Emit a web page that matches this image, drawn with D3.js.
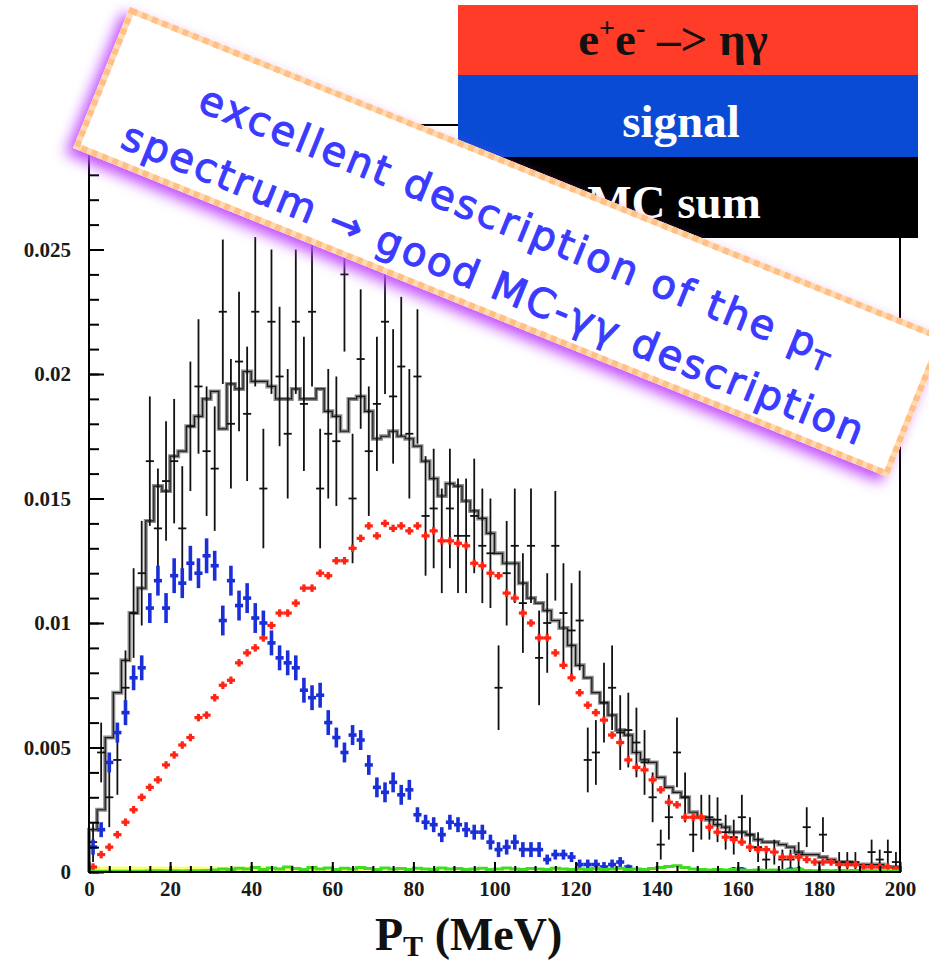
<!DOCTYPE html>
<html lang="en">
<head>
<script src="https://d3js.org/d3.v7.min.js"></script>
<style>
  body { margin: 0; background: #fff; }
  .legend-text { font-family: "Liberation Serif", "Times New Roman", serif; font-weight: bold; font-size: 47px; }
  .note { font-family: "Comic Sans MS", "DejaVu Sans", sans-serif; font-size: 40px; fill: #3b3bff;
          stroke: #3b3bff; stroke-width: 1.1px; }
</style>
</head>
<body>
<svg id="chart" width="929" height="964"></svg>
<script>
// 2 MeV bins from 0 to 200 MeV
const binWidth = 2;
const binLow = d3.range(0, 200, binWidth);

// data points (black crosses)
const dataVals = [0.0012,0.0048,0.0030,0.0045,0.0074,0.0104,0.0120,0.0165,0.0138,0.0157,
  0.0165,0.0138,0.0179,0.0195,0.0169,0.0162,0.0225,0.0180,0.0205,0.0184,
  0.0225,0.0154,0.0221,0.0199,0.0176,0.0221,0.0188,0.0225,0.0154,0.0176,
  0.0173,0.0240,0.0150,0.0206,0.0169,0.0188,0.0221,0.0191,0.0203,0.0176,
  0.0199,0.0143,0.0146,0.0133,0.0146,0.0135,0.0135,0.0143,0.0131,0.0128,
  0.0074,0.0120,0.0131,0.0108,0.0131,0.0086,0.0100,0.0131,0.0104,0.0097,
  0.0101,0.0045,0.0048,0.0068,0.0074,0.0056,0.0057,0.0052,0.0044,0.0030,
  0.0011,0.0022,0.0048,0.0030,0.0015,0.0022,0.0022,0.0021,0.0016,0.0014,
  0.0022,0.0015,0.0010,0.0005,0.0008,0.0005,0.0005,0.0007,0.0018,null,
  0.0015,null,0.0004,0.0004,0.0004,null,0.0008,0.0005,0.0008,0.0004];
const dataErr = [0.0008,0.0012,0.0012,0.0014,0.0015,0.0018,0.0021,0.0026,0.0024,0.0024,
  0.0025,0.0025,0.0026,0.0027,0.0026,0.0025,0.0029,0.0026,0.0028,0.0027,
  0.0030,0.0024,0.0029,0.0028,0.0026,0.0029,0.0027,0.0030,0.0024,0.0026,
  0.0026,0.0031,0.0026,0.0028,0.0026,0.0027,0.0029,0.0027,0.0028,0.0026,
  0.0027,0.0024,0.0024,0.0021,0.0024,0.0023,0.0023,0.0023,0.0023,0.0022,
  0.0017,0.0021,0.0023,0.0020,0.0023,0.0019,0.0020,0.0022,0.0020,0.0019,
  0.0020,0.0013,0.0013,0.0016,0.0017,0.0015,0.0015,0.0014,0.0013,0.0010,
  0.0006,0.0009,0.0014,0.0010,0.0007,0.0009,0.0009,0.0009,0.0007,0.0007,
  0.0009,0.0007,0.0006,0.0005,0.0005,0.0004,0.0004,0.0005,0.0008,null,
  0.0007,null,0.0004,0.0004,0.0004,null,0.0005,0.0004,0.0005,0.0004];

// MC sum histogram (grey step line)
const mcSum = [0.0017,0.0025,0.0054,0.0072,0.0085,0.0104,0.0114,0.0141,0.0155,0.0153,
  0.0167,0.0169,0.0179,0.0183,0.0190,0.0193,0.0178,0.0196,0.0194,0.0201,
  0.0197,0.0197,0.0195,0.0190,0.0190,0.0194,0.0190,0.0190,0.0194,0.0185,
  0.0183,0.0177,0.0190,0.0191,0.0185,0.0174,0.0175,0.0177,0.0175,0.0174,
  0.0171,0.0165,0.0158,0.0151,0.0156,0.0155,0.0149,0.0145,0.0142,0.0136,
  0.0128,0.0124,0.0124,0.0116,0.0110,0.0108,0.0105,0.0101,0.0098,0.0091,
  0.0083,0.0078,0.0072,0.0068,0.0063,0.0057,0.0055,0.0048,0.0045,0.0044,
  0.0038,0.0034,0.0032,0.0030,0.0024,0.0022,0.0021,0.0019,0.0018,0.0016,
  0.0016,0.0015,0.0013,0.0012,0.0012,0.0011,0.0010,0.0008,0.0007,0.0007,
  0.0006,0.0005,0.0004,0.0004,0.0003,0.0003,0.0003,0.0003,0.0002,0.0002];

// e+e- -> eta gamma (red crosses)
const etaGamma = [0.0002,0.0007,0.0010,0.0015,0.0020,0.0025,0.0030,0.0034,0.0037,0.0043,
  0.0047,0.0051,0.0054,0.0062,0.0063,0.0070,0.0075,0.0077,0.0084,0.0088,
  0.0090,0.0094,0.0099,0.0104,0.0104,0.0108,0.0114,0.0114,0.0120,0.0119,
  0.0125,0.0125,0.0130,0.0134,0.0139,0.0135,0.0140,0.0138,0.0139,0.0137,
  0.0139,0.0135,0.0137,0.0133,0.0133,0.0132,0.0131,0.0124,0.0123,0.0120,
  0.0119,0.0112,0.0110,0.0104,0.0100,0.0094,0.0094,0.0088,0.0083,0.0078,
  0.0072,0.0067,0.0064,0.0061,0.0055,0.0052,0.0045,0.0042,0.0041,0.0037,
  0.0033,0.0028,0.0027,0.0022,0.0022,0.0022,0.0018,0.0016,0.0014,0.0013,
  0.0012,0.0010,0.0009,0.0009,0.0008,0.0006,0.0006,0.0006,0.0005,0.0004,
  0.0004,0.0004,0.0003,0.0003,0.0003,0.0002,0.0002,0.0002,0.0002,0.0001];
const etaGammaErr = 0.00015;

// signal (blue crosses)
const signal = [0.0010,0.0017,0.0044,0.0056,0.0064,0.0078,0.0082,0.0106,0.0117,0.0106,
  0.0119,0.0116,0.0124,0.0120,0.0127,0.0123,0.0101,0.0117,0.0107,0.0110,
  0.0102,0.0100,0.0092,0.0086,0.0084,0.0082,0.0073,0.0070,0.0071,0.0060,
  0.0054,0.0048,0.0055,0.0053,0.0043,0.0034,0.0032,0.0036,0.0031,0.0033,
  0.0023,0.0020,0.0019,0.0015,0.0020,0.0019,0.0017,0.0016,0.0016,0.0012,
  0.0009,0.0010,0.0012,0.0009,0.0009,0.0009,0.0005,0.0007,0.0007,0.0006,
  0.0003,0.0003,0.0003,0.0002,0.0003,0.0004,0.0002,null,null,null,
  null,null,null,null,null,null,null,null,null,0.0001,
  0.0001,null,null,null,null,null,0.0001,0.0001,null,null,
  null,null,null,null,null,null,null,null,null,null];
const signalErr = [0.0003,0.0003,0.0004,0.0004,0.0005,0.0005,0.0005,0.0006,0.0006,0.0006,
  0.0007,0.0006,0.0007,0.0006,0.0007,0.0006,0.0006,0.0006,0.0006,0.0006,
  0.0006,0.0005,0.0005,0.0005,0.0005,0.0005,0.0005,0.0005,0.0005,0.0005,
  0.0004,0.0004,0.0004,0.0004,0.0004,0.0004,0.0004,0.0004,0.0004,0.0004,
  0.0003,0.0003,0.0003,0.0003,0.0003,0.0003,0.0003,0.0003,0.0003,0.0003,
  0.0003,0.0003,0.0003,0.0003,0.0003,0.0003,0.0002,0.0002,0.0002,0.0002,
  0.0002,0.0002,0.0002,0.0002,0.0002,0.0002,0.0001,0.0001,0.0001,0.0001,
  0.0001,0.0001,0.0001,0.0001,0.0001,0.0001,0.0001,0.0001,0.0001,0.0001,
  0.0001,0.0001,0.0001,0.0001,0.0001,0.0001,0.0001,0.0001,0.0001,0.0001,
  0.0001,0.0001,0.0001,0.0001,0.0001,0.0001,0.0001,0.0001,0.0001,0.0001];

// small backgrounds near zero (green, yellow)
const bkgGreen = [0.00003,0.00003,0.00003,0.00003,0.00003,0.00003,0.00003,0.00004,0.00005,0.00004,
  0.00005,0.00004,0.00005,0.00005,0.00006,0.00008,0.00012,0.00010,0.00015,0.00012,
  0.00018,0.00010,0.00016,0.00012,0.00020,0.00014,0.00010,0.00018,0.00012,0.00016,
  0.00010,0.00015,0.00012,0.00018,0.00014,0.00010,0.00016,0.00012,0.00014,0.00010,
  0.00015,0.00012,0.00010,0.00016,0.00012,0.00014,0.00010,0.00012,0.00015,0.00010,
  0.00012,0.00016,0.00012,0.00010,0.00014,0.00012,0.00010,0.00015,0.00012,0.00010,
  0.00012,0.00010,0.00014,0.00010,0.00012,0.00015,0.00010,0.00012,0.00010,0.00014,
  0.00018,0.00022,0.00025,0.00018,0.00012,0.00010,0.00008,0.00010,0.00008,0.00010,
  0.00008,0.00006,0.00008,0.00006,0.00008,0.00006,0.00008,0.00010,0.00006,0.00005,
  0.00006,0.00005,0.00006,0.00005,0.00006,0.00005,0.00004,0.00005,0.00004,0.00004];
const bkgYellow = [0.00022,0.00022,0.00022,0.00021,0.00022,0.00022,0.00021,0.00022,0.00022,0.00021,
  0.00022,0.00021,0.00022,0.00022,0.00021,0.00022,0.00021,0.00022,0.00021,0.00022,
  0.00021,0.00022,0.00021,0.00020,0.00018,0.00016,0.00012,0.00010,0.00012,0.00014,
  0.00014,0.00012,0.00010,0.00008,0.00006,0.00006,0.00006,0.00006,0.00006,0.00006,
  0.00006,0.00006,0.00006,0.00006,0.00006,0.00006,0.00006,0.00006,0.00006,0.00006,
  0.00006,0.00006,0.00006,0.00006,0.00006,0.00006,0.00006,0.00016,0.00018,0.00016,
  0.00012,0.00006,0.00006,0.00006,0.00006,0.00006,0.00006,0.00006,0.00006,0.00006,
  0.00006,0.00006,0.00006,0.00006,0.00006,0.00006,0.00006,0.00006,0.00006,0.00006,
  0.00006,0.00006,0.00006,0.00006,0.00006,0.00006,0.00006,0.00006,0.00006,0.00006,
  0.00006,0.00006,0.00006,0.00006,0.00006,0.00006,0.00006,0.00006,0.00006,0.00006];

const xTicks = [0, 20, 40, 60, 80, 100, 120, 140, 160, 180, 200];
const yTicks = [0, 0.005, 0.01, 0.015, 0.02, 0.025];
const yTickLabels = ["0", "0.005", "0.01", "0.015", "0.02", "0.025"];
const legendItems = ["e+e- –> ηγ", "signal", "MC sum"];
const noteLines = ["excellent description of the p", "spectrum → good MC-γγ description"];

const svg = d3.select("#chart");
const x = d3.scaleLinear().domain([0, 200]).range([89, 900]);
const y = d3.scaleLinear().domain([0, 0.03]).range([872, 125]);
const serif = '"Liberation Serif", "Times New Roman", serif';

const plot = svg.append("g");

// yellow band and green background along the baseline
const stepPts = vals => [[0, 0]].concat(binLow.map((b, i) => [b, vals[i] || 0]), [[200, vals[vals.length - 1] || 0]]);
plot.append("path")
    .datum(stepPts(bkgYellow))
    .attr("fill", "#ffff6e")
    .attr("d", d3.area().curve(d3.curveStepAfter).x(d => x(d[0])).y0(y(0)).y1(d => y(d[1])));

// MC sum histogram
const step = d3.line().curve(d3.curveStepAfter).x(d => x(d[0])).y(d => y(d[1]));
plot.append("path").datum(stepPts(mcSum))
    .attr("fill", "none").attr("stroke", "#8c8c8c").attr("stroke-width", 4).attr("d", step);
plot.append("path").datum(stepPts(mcSum))
    .attr("fill", "none").attr("stroke", "#1a1a1a").attr("stroke-width", 1.2).attr("d", step);

// crosses: horizontal bar over the bin, vertical error bar
function crosses(vals, errs, color, width, cls) {
  const pts = binLow.map((b, i) => ({lo: b, v: vals[i], e: Array.isArray(errs) ? errs[i] : errs}))
                    .filter(d => d.v != null);
  const g = plot.append("g").attr("stroke", color).attr("stroke-width", width);
  g.selectAll("line.h" + cls).data(pts).join("line")
   .attr("class", "h" + cls)
   .attr("x1", d => x(d.lo)).attr("x2", d => x(d.lo + binWidth))
   .attr("y1", d => y(d.v)).attr("y2", d => y(d.v));
  g.selectAll("line.v" + cls).data(pts).join("line")
   .attr("class", "v" + cls)
   .attr("x1", d => x(d.lo + binWidth / 2)).attr("x2", d => x(d.lo + binWidth / 2))
   .attr("y1", d => y(Math.max(0, d.v - d.e))).attr("y2", d => y(d.v + d.e));
}
crosses(dataVals, dataErr, "#111", 1.8, "data");
crosses(etaGamma, etaGammaErr, "#ff2414", 3.2, "eta");
crosses(signal, signalErr, "#1b2fd8", 3.6, "sig");

plot.append("path").datum(stepPts(bkgGreen))
    .attr("fill", "none").attr("stroke", "#3fdc22").attr("stroke-width", 3).attr("d", step);

// axes with ticks pointing inward
const yMinor = svg.append("g").attr("transform", "translate(89,0)")
    .call(d3.axisLeft(y).tickValues(d3.range(0, 0.0301, 0.001)).tickSizeInner(-10).tickSizeOuter(0).tickFormat(""));
const yAxis = svg.append("g").attr("transform", "translate(89,0)")
    .call(d3.axisLeft(y).tickValues(yTicks).tickSizeInner(-15).tickSizeOuter(0).tickPadding(18)
          .tickFormat((d, i) => yTickLabels[i]));
const xMinor = svg.append("g").attr("transform", "translate(0,872)")
    .call(d3.axisBottom(x).tickValues(d3.range(0, 201, 5)).tickSizeInner(-6).tickSizeOuter(0).tickFormat(""));
const xAxis = svg.append("g").attr("transform", "translate(0,872)")
    .call(d3.axisBottom(x).tickValues(xTicks).tickSizeInner(-10).tickSizeOuter(0).tickPadding(9)
          .tickFormat(d3.format("d")));
[yMinor, yAxis, xMinor, xAxis].forEach(a => {
  a.selectAll(".tick line").attr("stroke", "#000").attr("stroke-width", 2);
  a.select(".domain").remove();
});
[yAxis, xAxis].forEach(a => a.selectAll("text")
  .attr("font-family", serif).attr("font-weight", "bold").attr("font-size", 21).attr("fill", "#1a1a1a"));

svg.append("rect")
   .attr("x", x(0)).attr("y", y(0.03))
   .attr("width", x(200) - x(0)).attr("height", y(0) - y(0.03))
   .attr("fill", "none").attr("stroke", "#000").attr("stroke-width", 2);

// axis title
const title = svg.append("text")
   .attr("x", 375).attr("y", 950)
   .attr("font-family", serif).attr("font-weight", "bold").attr("font-size", 46).attr("fill", "#111");
title.append("tspan").text("P");
title.append("tspan").attr("font-size", 30).attr("dy", 6).text("T");
title.append("tspan").attr("dy", -6).text(" (MeV)");

// legend
const legendColors = ["#ff3c28", "#0a4bd6", "#000"];
const legendText = ["#111", "#fff", "#fff"];
const legendY = [5, 75, 157, 238];
const legendCx = [673, 681, 674];
const legend = svg.append("g");
legendItems.forEach((label, i) => {
  legend.append("rect")
        .attr("x", 458).attr("y", legendY[i])
        .attr("width", 460).attr("height", legendY[i + 1] - legendY[i])
        .attr("fill", legendColors[i]);
  const t = legend.append("text").attr("class", "legend-text")
        .attr("x", legendCx[i]).attr("y", legendY[i + 1] - 20)
        .attr("text-anchor", "middle").attr("fill", legendText[i]);
  if (i === 0) {
    t.append("tspan").text("e");
    t.append("tspan").attr("font-size", 28).attr("dy", -18).text("+");
    t.append("tspan").attr("dy", 18).text("e");
    t.append("tspan").attr("font-size", 28).attr("dy", -18).text("-");
    t.append("tspan").attr("dy", 18).text(" –> ηγ");
  } else {
    t.text(label);
  }
});

// rotated comment banner
const defs = svg.append("defs");
const glow = defs.append("filter").attr("id", "glow")
    .attr("x", "-10%").attr("y", "-30%").attr("width", "120%").attr("height", "160%");
glow.append("feDropShadow").attr("dx", -5).attr("dy", 8).attr("stdDeviation", 7)
    .attr("flood-color", "#c24dff").attr("flood-opacity", 1);

const banner = svg.append("g").attr("transform", "translate(130,7) rotate(22)");
banner.append("rect").attr("width", 879).attr("height", 152)
      .attr("fill", "#fff").attr("filter", "url(#glow)");
banner.append("rect").attr("x", 3).attr("y", 3).attr("width", 873).attr("height", 146)
      .attr("fill", "none").attr("stroke", "#ffd9b0").attr("stroke-width", 6);
banner.append("rect").attr("x", 3).attr("y", 3).attr("width", 873).attr("height", 146)
      .attr("fill", "none").attr("stroke", "#ffbf85").attr("stroke-width", 6)
      .attr("stroke-dasharray", "6 5");

const line1 = banner.append("text").attr("class", "note")
      .attr("x", 100).attr("y", 71).attr("textLength", 680).attr("lengthAdjust", "spacing");
line1.append("tspan").text(noteLines[0]);
line1.append("tspan").attr("font-size", 26).attr("dy", 8).text("T");
banner.append("text").attr("class", "note")
      .attr("x", 42).attr("y", 134).attr("textLength", 796).attr("lengthAdjust", "spacing")
      .text(noteLines[1]);
</script>
</body>
</html>
